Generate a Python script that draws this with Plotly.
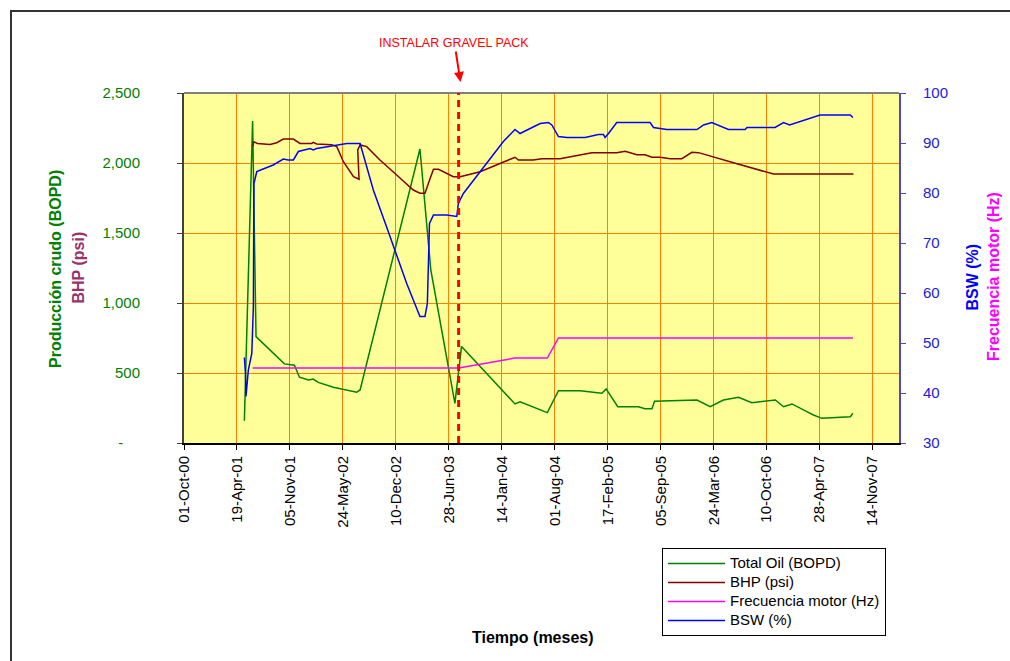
import plotly.graph_objects as go

# ---------------- data ----------------
oil_dates = ["2001-05-17", "2001-06-17", "2001-06-30", "2001-10-15", "2001-11-22", "2001-12-11",
             "2002-01-14", "2002-02-01", "2002-02-20", "2002-04-18", "2002-07-15", "2002-07-28",
             "2003-03-11", "2003-04-21", "2003-07-21", "2003-08-15", "2004-03-04", "2004-03-23",
             "2004-07-04", "2004-08-15", "2004-11-05", "2005-01-26", "2005-02-11", "2005-03-27",
             "2005-06-13", "2005-07-08", "2005-08-03", "2005-08-13", "2006-01-20", "2006-03-11",
             "2006-04-30", "2006-06-26", "2006-08-15", "2006-11-12", "2006-12-13", "2007-01-14",
             "2007-03-11", "2007-04-05", "2007-05-07", "2007-08-22", "2007-09-01"]
oil_bopd = [159, 2300, 760, 565, 555, 470,
            450, 457, 433, 398, 362, 379,
            2100, 1236, 283, 690, 279, 295,
            217, 374, 374, 355, 386, 259,
            259, 245, 245, 298, 307, 259,
            307, 326, 288, 307, 259, 279,
            224, 200, 176, 188, 212]

bhp_dates = ["2001-06-17", "2001-06-22", "2001-07-05", "2001-08-22", "2001-09-16", "2001-09-29",
             "2001-10-11", "2001-11-18", "2001-12-13", "2002-01-26", "2002-02-01", "2002-02-14",
             "2002-04-12", "2002-05-01", "2002-05-26", "2002-07-03", "2002-07-24", "2002-07-19",
             "2002-07-28", "2002-08-22", "2002-10-11", "2002-12-13", "2003-02-14", "2003-03-11",
             "2003-03-30", "2003-04-12", "2003-05-01", "2003-05-20", "2003-07-15", "2003-08-10",
             "2003-10-24", "2004-03-04", "2004-03-17", "2004-05-12", "2004-06-13", "2004-08-21",
             "2004-09-28", "2004-11-05", "2004-12-19", "2005-03-23", "2005-04-24", "2005-06-07",
             "2005-07-08", "2005-08-03", "2005-09-03", "2005-10-11", "2005-11-24", "2006-01-01",
             "2006-01-26", "2006-06-07", "2006-11-05", "2007-09-03"]
bhp_psi = [2117, 2152, 2140, 2133, 2145, 2157,
           2171, 2171, 2140, 2140, 2148, 2136,
           2131, 2117, 2009, 1902, 1884, 2093,
           2129, 2117, 2021, 1914, 1807, 1784,
           1784, 1855, 1955, 1955, 1902, 1902,
           1938, 2041, 2021, 2021, 2031, 2031,
           2045, 2059, 2074, 2074, 2084, 2059,
           2059, 2041, 2041, 2031, 2031, 2076,
           2074, 2002, 1921, 1921]

freq_dates = ["2001-06-17", "2003-08-04", "2004-03-04", "2004-07-04", "2004-08-15", "2007-09-01"]
freq_hz = [45, 45, 47, 47, 51, 51]

bsw_dates = ["2001-05-17", "2001-05-21", "2001-05-23", "2001-06-01", "2001-06-14", "2001-06-20",
             "2001-06-22", "2001-07-03", "2001-07-22", "2001-09-03", "2001-10-11", "2001-10-30",
             "2001-11-18", "2001-12-07", "2002-01-20", "2002-02-01", "2002-02-14", "2002-04-18",
             "2002-06-08", "2002-07-28", "2002-09-16", "2002-11-18", "2003-01-20", "2003-03-11",
             "2003-03-30", "2003-04-08", "2003-04-16", "2003-05-01", "2003-06-20", "2003-07-28",
             "2003-08-03", "2003-08-22", "2003-09-16", "2003-11-18", "2004-01-20", "2004-03-04",
             "2004-03-23", "2004-06-07", "2004-07-08", "2004-07-21", "2004-08-15", "2004-09-16",
             "2004-11-24", "2005-01-13", "2005-02-01", "2005-02-07", "2005-02-20", "2005-03-23",
             "2005-07-27", "2005-08-09", "2005-09-28", "2006-01-20", "2006-02-14", "2006-03-17",
             "2006-04-11", "2006-05-19", "2006-07-21", "2006-07-28", "2006-11-11", "2006-11-30",
             "2006-12-13", "2007-01-05", "2007-02-26", "2007-04-30", "2007-08-22", "2007-09-01"]
bsw_pct = [47.1, 43.9, 39.3, 44.6, 47.9, 57.3,
           81.9, 84.3, 84.7, 85.6, 86.8, 86.6,
           86.6, 88.3, 88.9, 88.6, 88.9, 89.4,
           89.9, 89.9, 80.6, 71.3, 61.9, 55.3,
           55.3, 57.9, 73.9, 75.6, 75.6, 75.3,
           77.9, 79.9, 81.6, 85.9, 90.3, 92.7,
           91.9, 93.9, 94.1, 93.6, 91.3, 91.1,
           91.1, 91.7, 91.7, 91.1, 91.9, 94.1,
           94.1, 93.1, 92.7, 92.7, 93.6, 94.1,
           93.5, 92.7, 92.7, 93.1, 93.1, 93.6,
           94.1, 93.6, 94.5, 95.6, 95.6, 95.1]

gravel_pack_date = "2003-08-04"

x_tick_dates = ["2000-10-01", "2001-04-19", "2001-11-05", "2002-05-24", "2002-12-10", "2003-06-28",
                "2004-01-14", "2004-08-01", "2005-02-17", "2005-09-05", "2006-03-24", "2006-10-10",
                "2007-04-28", "2007-11-14"]
x_tick_labels = ["01-Oct-00", "19-Apr-01", "05-Nov-01", "24-May-02", "10-Dec-02", "28-Jun-03",
                 "14-Jan-04", "01-Aug-04", "17-Feb-05", "05-Sep-05", "24-Mar-06", "10-Oct-06",
                 "28-Apr-07", "14-Nov-07"]
left_ticks = [0, 500, 1000, 1500, 2000, 2500]
left_tick_labels = ["-\u00a0\u00a0\u00a0\u00a0", "500", "1,000", "1,500", "2,000", "2,500"]
right_ticks = [30, 40, 50, 60, 70, 80, 90, 100]

# ---------------- layout geometry (pixels) ----------------
W, H = 1010, 661
PL, PR, PT, PB = 184, 899, 93, 443


def px_x(px):
    return (px - PL) / (PR - PL)


def px_y(py):
    return (PB - py) / (PB - PT)


FONT = "Liberation Sans, Arial, sans-serif"


def legend_name(label):
    # legend rows are spaced from the 12px legend font; the label itself is drawn larger
    return "<span style='font-size:15px'>" + label + "</span>"


fig = go.Figure()
fig.add_trace(go.Scatter(x=oil_dates, y=oil_bopd, name=legend_name("Total Oil (BOPD)"), mode="lines",
                         line=dict(color="#008000", width=1.5), yaxis="y"))
fig.add_trace(go.Scatter(x=bhp_dates, y=bhp_psi, name=legend_name("BHP (psi)"), mode="lines",
                         line=dict(color="#800000", width=1.5), yaxis="y"))
fig.add_trace(go.Scatter(x=freq_dates, y=freq_hz, name=legend_name("Frecuencia motor (Hz)"), mode="lines",
                         line=dict(color="#FF00FF", width=1.5), yaxis="y2"))
fig.add_trace(go.Scatter(x=bsw_dates, y=bsw_pct, name=legend_name("BSW (%)"), mode="lines",
                         line=dict(color="#0000FF", width=1.5), yaxis="y2"))

grid = "#FF8000"

fig.update_layout(
    width=W, height=H,
    margin=dict(l=PL, r=W - PR, t=PT, b=H - PB, pad=0),
    paper_bgcolor="white",
    plot_bgcolor="#FFFF99",
    font=dict(family=FONT, size=15, color="black"),
    showlegend=True,
    legend=dict(x=px_x(662), y=px_y(548), xanchor="left", yanchor="top",
                bgcolor="white", bordercolor="black", borderwidth=1,
                font=dict(family=FONT, size=12, color="black"),
                itemwidth=57, tracegroupgap=0),
    xaxis=dict(
        type="date", range=["2000-10-01", "2008-02-22"],
        tickmode="array", tickvals=x_tick_dates, ticktext=x_tick_labels,
        tickangle=-90, ticks="outside", ticklen=5, tickcolor="black",
        tickfont=dict(family=FONT, size=15, color="black"),
        showgrid=True, gridcolor=grid, gridwidth=1,
        showline=True, linecolor="black", linewidth=2,
        zeroline=False,
    ),
    yaxis=dict(
        range=[0, 2500], tickmode="array", tickvals=left_ticks, ticktext=left_tick_labels,
        ticks="outside", ticklen=5, tickcolor="#404040",
        tickfont=dict(family=FONT, size=15, color="#008000"),
        ticklabelstandoff=34,
        showgrid=True, gridcolor=grid, gridwidth=1,
        showline=True, linecolor="#404040", linewidth=2,
        zeroline=False,
    ),
    yaxis2=dict(
        range=[30, 100], tickmode="array", tickvals=right_ticks,
        overlaying="y", side="right", anchor="x",
        ticks="outside", ticklen=5, tickcolor="#4B4BC8",
        tickfont=dict(family=FONT, size=15, color="#2020DD"),
        ticklabelstandoff=14,
        showgrid=False,
        showline=True, linecolor="#4B4BC8", linewidth=2,
        zeroline=False,
    ),
)

# plot-area top border and outer chart frame
fig.add_shape(type="line", xref="paper", yref="paper", x0=0, x1=1, y0=1, y1=1,
              line=dict(color="#808080", width=2))
fig.add_shape(type="rect", xref="paper", yref="paper",
              x0=px_x(11), x1=px_x(1016), y0=px_y(670), y1=px_y(11),
              line=dict(color="#333333", width=2), fillcolor="rgba(0,0,0,0)")

# gravel pack event marker
fig.add_shape(type="line", xref="x", yref="paper", x0=gravel_pack_date, x1=gravel_pack_date,
              y0=0, y1=1, line=dict(color="#FF0000", width=3, dash="7px,5px"))
fig.add_annotation(x="2003-08-11", y=px_y(82), xref="x", yref="paper",
                   text="INSTALAR GRAVEL PACK", showarrow=True,
                   arrowhead=2, arrowsize=1, arrowwidth=2, arrowcolor="#FF0000",
                   ax=-6, ay=-39, font=dict(family=FONT, size=12.5, color="#FF0000"))

# axis titles
titles = [
    ("<b>Producción crudo (BOPD)</b>", 55, 269, "#008000", -90),
    ("<b>BHP (psi)</b>", 77.5, 267, "#993366", -90),
    ("<b>BSW (%)</b>", 971.5, 277, "#0000FF", -90),
    ("<b>Frecuencia motor (Hz)</b>", 993, 277, "#FF00FF", -90),
    ("<b>Tiempo (meses)</b>", 533, 637, "black", 0),
]
for text, cx, cy, color, angle in titles:
    fig.add_annotation(x=px_x(cx), y=px_y(cy), xref="paper", yref="paper", showarrow=False,
                       xanchor="center", yanchor="middle", text=text, textangle=angle,
                       font=dict(family=FONT, size=16, color=color))

fig.write_html("out.html")
